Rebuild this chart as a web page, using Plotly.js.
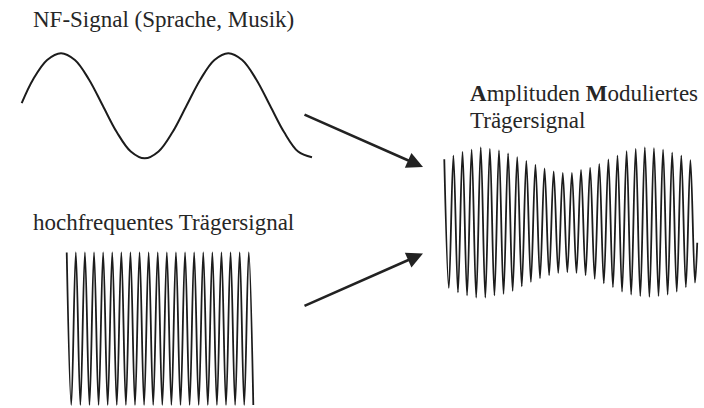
<!DOCTYPE html>
<html>
<head>
<meta charset="utf-8">
<script src="https://cdn.plot.ly/plotly-3.0.1.min.js"></script>
<style>html,body{margin:0;padding:0;background:#fff;}#chart{width:704px;height:408px;}</style>
</head>
<body>
<div id="chart"></div>
<script>
// ---- data (time in cycles, amplitude normalised) ----
var nfCycles = [0.015, 0.083, 0.167, 0.25, 0.333, 0.417, 0.5, 0.583, 0.667, 0.75, 0.833, 0.917, 1.0,
                1.083, 1.167, 1.25, 1.333, 1.417, 1.5, 1.583, 1.667, 1.75];
var nfValues = [0.05, 0.5, 0.87, 1.0, 0.87, 0.5, 0.0, -0.5, -0.87, -1.0, -0.87, -0.5, 0.0,
                0.5, 0.87, 1.0, 0.87, 0.5, 0.0, -0.5, -0.87, -0.98];

var carrierCycles = [0, 0.5, 1, 1.5, 2, 2.5, 3, 3.5, 4, 4.5, 5, 5.5, 6, 6.5, 7, 7.5, 8, 8.5, 9, 9.5, 10, 10.5,
                     11, 11.5, 12, 12.5, 13, 13.5, 14, 14.5, 15, 15.5, 16, 16.5, 17, 17.5, 18, 18.5, 19, 19.5, 20, 20.5];
var carrierValues = [1, -1, 1, -1, 1, -1, 1, -1, 1, -1, 1, -1, 1, -1, 1, -1, 1, -1, 1, -1, 1, -1,
                     1, -1, 1, -1, 1, -1, 1, -1, 1, -1, 1, -1, 1, -1, 1, -1, 1, -1, 1, -1];

var amCycles = [0, 0.5, 1, 1.5, 2, 2.5, 3, 3.5, 4, 4.5, 5, 5.5, 6, 6.5, 7, 7.5, 8, 8.5, 9, 9.5, 10, 10.5,
                11, 11.5, 12, 12.5, 13, 13.5, 14, 14.5, 15, 15.5, 16, 16.5, 17, 17.5, 18, 18.5, 19, 19.5, 20, 20.5,
                21, 21.5, 22, 22.5, 23, 23.5, 24, 24.5, 25, 25.5, 26, 26.5, 27, 27.5, 27.75];
var amValues = [0.84, -0.87, 0.89, -0.93, 0.94, -0.97, 0.97, -1.00, 1.00, -1.00, 0.98, -0.97, 0.96, -0.95,
                0.92, -0.91, 0.87, -0.85, 0.82, -0.79, 0.77, -0.74, 0.72, -0.70, 0.68, -0.67, 0.66, -0.66,
                0.66, -0.67, 0.70, -0.70, 0.73, -0.75, 0.78, -0.81, 0.84, -0.86, 0.89, -0.92, 0.95, -0.96,
                0.98, -0.98, 1.00, -0.99, 0.99, -0.98, 0.97, -0.96, 0.93, -0.92, 0.89, -0.86, 0.83, -0.80, -0.27];

var labelNF = 'NF-Signal (Sprache, Musik)';
var labelCarrier = 'hochfrequentes Trägersignal';
var labelAM1 = '<b>A</b>mplituden <b>M</b>oduliertes';
var labelAM2 = 'Trägersignal';

// ---- drawing ----
var ink = '#1c1c1c';
function wave(x, y, xa, ya, w) {
  return {x: x, y: y, xaxis: xa, yaxis: ya, type: 'scatter', mode: 'lines',
          line: {color: ink, width: w, shape: 'spline', smoothing: 1}, hoverinfo: 'skip'};
}
var traces = [
  wave(nfCycles, nfValues, 'x', 'y', 2),
  wave(carrierCycles, carrierValues, 'x2', 'y2', 1.8),
  wave(amCycles, amValues, 'x3', 'y3', 1.8)
];

function hid(extra) {
  var a = {visible: false, showgrid: false, zeroline: false, fixedrange: true};
  for (var k in extra) a[k] = extra[k];
  return a;
}
var txtFont = {family: 'Liberation Serif', size: 23, color: '#262626'};
function label(text, x, y) {
  return {text: text, xref: 'paper', yref: 'paper', x: x, y: y, xanchor: 'left', yanchor: 'middle',
          showarrow: false, font: txtFont};
}
function arrow(x, y, ax, ay) {
  return {xref: 'paper', yref: 'paper', x: x, y: y, ax: ax, ay: ay, axref: 'pixel', ayref: 'pixel',
          text: '', showarrow: true, arrowhead: 2, arrowsize: 1.25, arrowwidth: 2.6, arrowcolor: '#222', standoff: 0};
}

var layout = {
  width: 704, height: 408,
  margin: {l: 0, r: 0, t: 0, b: 0},
  paper_bgcolor: '#fff', plot_bgcolor: '#fff',
  showlegend: false,
  font: {family: 'Liberation Serif'},
  xaxis:  hid({domain: [0.0225, 0.4479], range: [-0.02, 1.77]}),
  yaxis:  hid({domain: [0.5990, 0.8826], range: [-1.1, 1.1]}),
  xaxis2: hid({domain: [0.0909, 0.3637], range: [-0.3, 20.8]}),
  yaxis2: hid({domain: [0.0037, 0.3998], range: [-1.02, 1.1]}),
  xaxis3: hid({domain: [0.6272, 0.9943], range: [-0.3, 28.05]}),
  yaxis3: hid({domain: [0.2520, 0.6574], range: [-1.1, 1.1]}),
  annotations: [
    label(labelNF, 0.044, 0.9534),
    label(labelCarrier, 0.044, 0.4537),
    label(labelAM1, 0.665, 0.7716),
    label(labelAM2, 0.665, 0.7054),
    arrow(423/704, 1 - 167/408, -120, -53),
    arrow(423/704, 1 - 253.5/408, -120, 53)
  ]
};

Plotly.newPlot('chart', traces, layout, {displayModeBar: false, staticPlot: true});
</script>
</body>
</html>
